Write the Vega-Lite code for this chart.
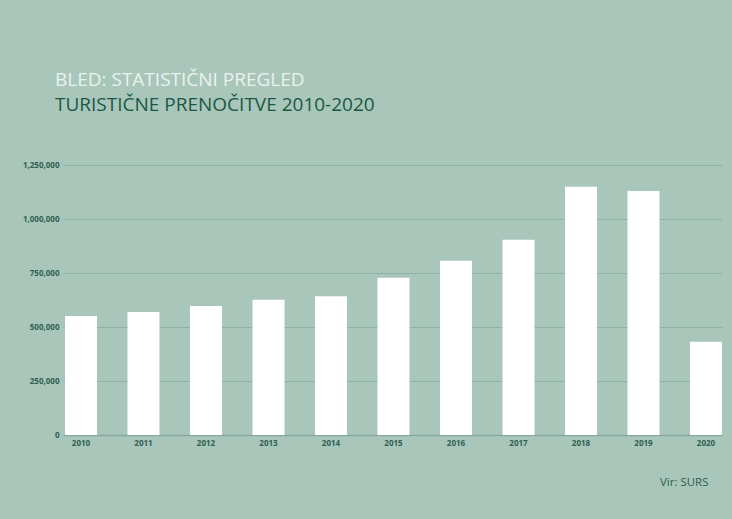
{
  "$schema": "https://vega.github.io/schema/vega-lite/v6.json",
  "width": 659,
  "height": 270,
  "autosize": {"type": "none"},
  "padding": {"left": 63, "top": 165, "right": 10, "bottom": 84},
  "background": "#a9c6bb",
  "title": {
    "text": "BLED: STATISTIČNI PREGLED",
    "subtitle": "TURISTIČNE PRENOČITVE 2010-2020",
    "anchor": "start",
    "frame": "group",
    "dx": -8,
    "offset": 46,
    "font": "Open Sans",
    "fontSize": 19,
    "fontWeight": "normal",
    "color": "#eaf2ee",
    "subtitleFont": "Open Sans",
    "subtitleFontSize": 19,
    "subtitleFontWeight": "normal",
    "subtitleColor": "#1b5843",
    "subtitlePadding": 6
  },
  "data": {
    "values": [
      {"leto": "2010", "nocitve": 551000},
      {"leto": "2011", "nocitve": 569000},
      {"leto": "2012", "nocitve": 597000},
      {"leto": "2013", "nocitve": 626000},
      {"leto": "2014", "nocitve": 642000},
      {"leto": "2015", "nocitve": 728000},
      {"leto": "2016", "nocitve": 807000},
      {"leto": "2017", "nocitve": 904000},
      {"leto": "2018", "nocitve": 1149000},
      {"leto": "2019", "nocitve": 1130000},
      {"leto": "2020", "nocitve": 432000}
    ]
  },
  "mark": {"type": "bar", "color": "#ffffff"},
  "encoding": {
    "x": {
      "field": "leto",
      "type": "ordinal",
      "scale": {"paddingInner": 0.488, "paddingOuter": 0.016, "align": 1},
      "axis": {
        "labelAngle": 0,
        "labelFont": "Open Sans",
        "labelFontSize": 8,
        "labelFontWeight": "bold",
        "labelColor": "#2f5f50",
        "labelPadding": 4,
        "ticks": false,
        "domain": true,
        "domainColor": "#86a99b",
        "domainWidth": 1.5,
        "grid": false,
        "title": "Vir: SURS",
        "titleFont": "Open Sans",
        "titleFontSize": 11.5,
        "titleFontWeight": "normal",
        "titleColor": "#2f5f50",
        "titleAlign": "right",
        "titleBaseline": "middle",
        "titleX": 645,
        "titleY": 47
      }
    },
    "y": {
      "field": "nocitve",
      "type": "quantitative",
      "scale": {"domain": [0, 1250000], "nice": false},
      "axis": {
        "values": [0, 250000, 500000, 750000, 1000000, 1250000],
        "format": ",d",
        "labelFont": "Open Sans",
        "labelFontSize": 8,
        "labelFontWeight": "bold",
        "labelColor": "#2f5f50",
        "labelPadding": 4,
        "ticks": false,
        "domain": false,
        "grid": true,
        "gridColor": "#8fb0a3",
        "gridWidth": 1,
        "title": null
      }
    }
  },
  "config": {"view": {"stroke": null}}
}
